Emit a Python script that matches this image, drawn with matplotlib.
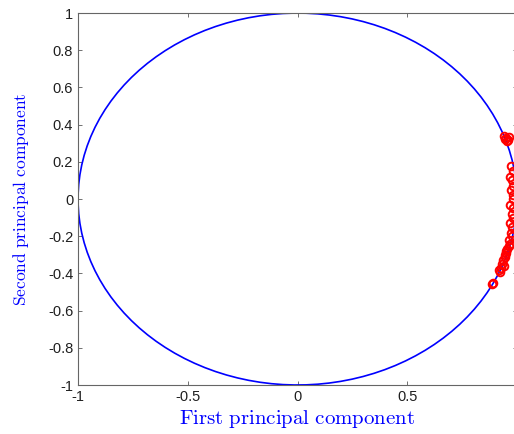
import numpy as np
import matplotlib.pyplot as plt

# loadings of the variables on the first two principal components
pc1 = [0.95, 0.96, 0.94, 0.955, 0.965, 0.945,
       0.975, 0.98, 0.968, 0.978, 0.982, 0.972, 0.98, 0.984, 0.97, 0.981,
       0.976, 0.98, 0.968, 0.978, 0.972, 0.976, 0.965, 0.968,
       0.962, 0.956, 0.95, 0.944, 0.938, 0.932, 0.946, 0.928, 0.922, 0.918, 0.94, 0.952,
       0.89, 0.886]
pc2 = [0.33, 0.32, 0.34, 0.31, 0.335, 0.325,
       0.18, 0.15, 0.12, 0.10, 0.07, 0.05, 0.02, 0.0, -0.03, -0.05,
       -0.08, -0.10, -0.13, -0.15, -0.18, -0.20, -0.22, -0.24,
       -0.25, -0.27, -0.29, -0.31, -0.33, -0.35, -0.30, -0.37, -0.39, -0.38, -0.36, -0.28,
       -0.45, -0.455]

xticks = [-1, -0.5, 0, 0.5, 1]
yticks = [-1, -0.8, -0.6, -0.4, -0.2, 0, 0.2, 0.4, 0.6, 0.8, 1]

plt.rcParams['font.family'] = ['Liberation Sans', 'DejaVu Sans']
plt.rcParams['mathtext.fontset'] = 'cm'

fig = plt.figure(figsize=(5.14, 4.34), dpi=100)
ax = fig.add_axes([0.1518, 0.1129, 0.854, 0.857])

# unit correlation circle
t = np.linspace(0, 2*np.pi, 120)
ax.plot(np.cos(t), np.sin(t), color=(0, 0, 1), lw=1.2)

ax.plot(pc1, pc2, 'o', color='red', mfc='none', ms=5.5, mew=1.4)

ax.set_xlim(-1, 1)
ax.set_ylim(-1, 1)
ax.set_xticks(xticks)
ax.set_xticklabels(['-1', '-0.5', '0', '0.5', '1'])
ax.set_yticks(yticks)
ax.set_yticklabels(['-1', '-0.8', '-0.6', '-0.4', '-0.2', '0', '0.2', '0.4', '0.6', '0.8', '1'])
ax.tick_params(direction='in', length=3, width=0.6, colors='0.35', labelcolor='0.12',
               labelsize=10.5, top=True, right=True)
for s in ax.spines.values():
    s.set_color('0.4')
    s.set_linewidth(0.8)

ax.set_xlabel(r'$\mathrm{First\ principal\ component}$', color='blue', fontsize=15, labelpad=3)
ax.set_ylabel(r'$\mathrm{Second\ principal\ component}$', color='blue', fontsize=12.5, labelpad=12)

fig.savefig('out.png', dpi=100)
